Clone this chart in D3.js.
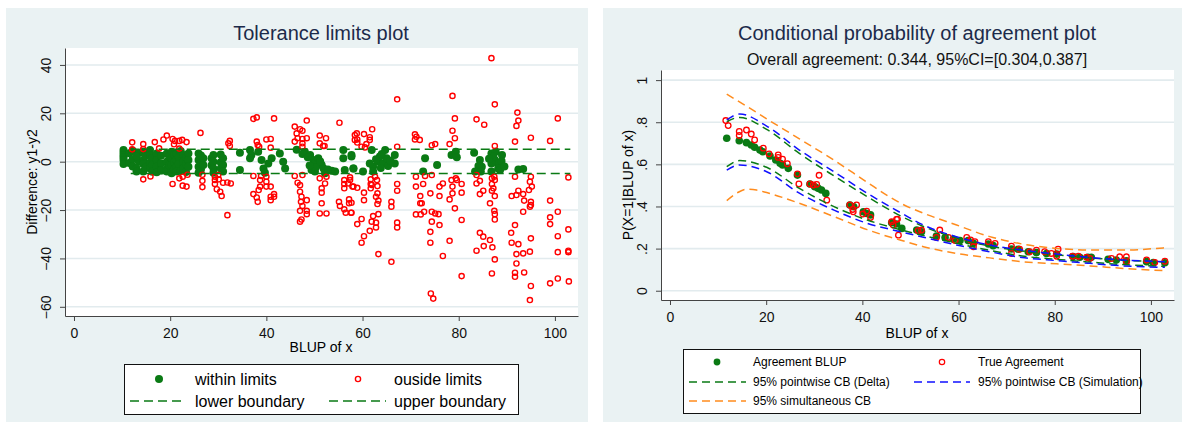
<!DOCTYPE html>
<html>
<head>
<meta charset="utf-8">
<script src="https://cdn.jsdelivr.net/npm/d3@7"></script>
<style>
  body { margin: 0; padding: 0; background: #fff; }
  text { font-family: "Liberation Sans", Arial, sans-serif; }
</style>
</head>
<body>
<script>
// ---- data ----
const xTicks = [0, 20, 40, 60, 80, 100];
const diffTicks = [-60, -40, -20, 0, 20, 40];
const probTicks = [0, 0.2, 0.4, 0.6, 0.8, 1];

// left panel: [BLUP of x, y1-y2]
const withinPts = [
  [10.3,4.8],[10.3,3.8],[10.3,2.8],[10.3,1.8],[10.3,0.7],[10.3,-1.0],
  [11.5,3.5],[11.5,-0.5],[12.2,4.5],[12.2,1.0],[12.2,-2.0],[13.5,3.6],[13.5,0.0],
  [13.0,2.1],[13.0,-2.8],[13.0,-4.1],
  [14.4,4.1],[14.4,0.7],[14.4,-1.0],[14.4,-4.1],[14.9,2.3],[14.9,-2.4],
  [15.8,4.8],[15.8,2.8],[15.8,-0.4],[15.8,-2.8],[16.3,1.5],[16.3,-1.3],[16.3,-4.2],
  [17.2,3.4],[17.2,0.7],[17.2,-2.1],[17.2,-4.4],[18.1,2.5],[18.1,-0.8],[18.1,-3.6],
  [19.3,3.4],[19.3,0],[19.3,-2.8],[19.3,-4.1],[19.8,2.2],[19.8,-1.5],
  [20.3,4.1],[20.3,1.4],[20.3,-1.4],[20.3,-4.8],[20.8,3.0],[20.8,-0.3],[20.8,-3.2],
  [21.3,3.4],[21.3,0.7],[21.3,-2.1],[21.3,-4.1],[21.8,1.8],[21.8,-1.0],[22.2,4.4],[22.2,-3.9],
  [22.7,2.8],[22.7,0],[22.7,-2.8],[23.3,1.6],[23.3,-1.0],[23.3,-4.3],
  [23.8,3.4],[23.8,0.7],[23.8,-2.1],
  [25.9,3.4],[25.9,0.7],[25.9,-2.1],[25.9,-4.6],[26.4,2.6],[26.4,-0.5],[26.4,-3.2],
  [26.9,1.4],[26.9,-1.4],[28.6,1.4],[28.6,-1.5],
  [29.0,2.8],[29.0,0],[29.0,-2.8],[29.0,-4.6],[30.5,3.0],[30.5,-0.2],[30.5,-2.8],
  [31.0,1.4],[31.0,-1.4],[31.0,-4.1],
  [34.5,3.7],[34.5,-3.4],[36.6,4.8],[36.9,2.8],[36.6,1.4],
  [38.3,4.1],[39.0,0.7],[39.4,-2.8],[39.7,-4.6],[41.1,1.4],[40.4,-0.7],
  [42.8,3.4],[43.5,0],[43.9,-2.8],
  [46.3,4.9],[48.0,4.1],[49.1,2.8],[49.8,0.7],[50.1,-0.7],[50.8,1.4],[51.5,-1.4],
  [51.9,-2.8],[49.4,-3.4],[50.1,-4.1],[52.2,-4.8],[53.6,-3.7],[54.3,-4.1],
  [47.5,3.2],[48.6,1.8],[50.3,-2.3],[51.2,0.1],[52.8,-3.2],[49.0,-1.6],
  [56.0,4.8],[56.0,1.4],[57.7,2.1],[56.3,-3.4],[58.1,-2.8],
  [57.7,2.8],[58.1,-2.8],[60.1,-4.1],[61.9,4.8],[62.2,-2.1],[62.2,-4.1],[63.3,0],
  [63.6,2.1],[64.3,-0.7],[64.7,4.8],[65.0,1.4],[65.3,-1.8],[66.7,2.8],[66.7,-0.7],
  [62.8,1.0],[63.8,-2.6],[64.0,3.2],[65.8,0.4],[61.5,-0.8],
  [73.0,1.4],[72.6,-4.1],[75.5,-1.4],[78.5,2.8],[79.4,4.1],[79.6,1.8],
  [83.2,3.7],[84.4,0.7],[84.8,-2.1],[84.1,-1.8],[83.4,-4.1],[84.6,-4.1],[86.8,3.4],
  [87.7,4.1],[89.0,2.8],[87.5,0.7],[88.2,-1.0],[86.8,-0.7],[88.2,-2.8],[86.8,-4.1],
  [88.6,-3.4],[92.4,-3.2],[93.4,-3.0],[87.2,2.0],[88.9,0.3],[86.3,1.2],[89.5,-2.0]
];

const outsidePts = [
  [12.1,8.0],[12.1,5.1],[14.4,7.3],[14.4,5.2],[16.8,8.1],[17.7,5.5],[18.6,9.2],[19.3,10.8],
  [20.5,9.4],[21.0,8.6],[20.8,7.2],[21.9,8.6],[22.5,9.0],[23.4,8.1],[21.9,5.4],[26.3,11.9],
  [14.4,-7.3],[15.9,-6.1],[20.5,-9.2],[21.9,-6.9],[22.6,-9.9],[23.4,-10.3],[22.6,-6.2],
  [23.6,-5.4],[26.7,-5.4],[26.7,-7.9],[26.7,-10.5],[29.3,-6.2],[29.3,-7.6],[29.3,-9.2],
  [30.0,-5.5],[30.1,-7.3],[29.7,-11.4],[30.4,-12.4],[30.7,-14.2],[31.0,-8.7],[31.9,-8.6],
  [31.9,-22.1],[32.1,7.6],
  [32.4,8.6],[32.4,6.5],[32.6,-9.0],[37.3,17.7],[38.0,18.3],[41.6,17.9],
  [38.0,8.3],[38.2,6.9],[38.5,6.2],[40.0,9.2],[40.9,9.4],[40.9,5.8],[37.3,-5.9],[38.9,-5.9],
  [38.7,-7.6],[38.7,-10.3],[38.4,-11.7],[37.3,-13.4],[38.0,-14.8],[38.2,-16.6],
  [40.0,-6.2],[40.0,-8.3],[40.0,-10.3],[40.9,-10.3],[41.6,-13.4],[40.9,-14.5],[40.9,-15.9],[41.6,-14.5],
  [45.9,14.5],[46.3,11.7],[47.0,13.4],[47.5,12.8],[48.4,17.0],
  [45.9,8.3],[46.5,9.7],[47.5,9.4],[48.4,9.7],[47.5,7.6],[47.5,6.2],
  [45.9,-5.9],[46.5,-8.7],[47.0,-9.7],[47.0,-12.4],[47.3,-14.5],[47.2,-16.6],[47.5,-18.3],
  [47.0,-20.3],[47.3,-23.9],[47.0,-24.8],[48.4,-15.9],[48.4,-20.3],[48.4,-21.7],[47.5,-5.5],
  [51.1,10.8],[52.4,9.7],[51.1,7.6],[51.8,6.5],[52.1,6.5],
  [51.1,-6.9],[51.5,-11.0],[51.5,-12.8],[52.2,-9.0],[52.5,-6.2],[51.5,-17.2],[51.1,-21.4],[52.5,-21.4],
  [55.2,16.1],
  [56.2,-7.6],[56.2,-9.2],[56.2,-11.0],[57.4,-7.6],[57.0,-9.0],[58.1,-10.3],[57.2,-15.6],[57.2,-17.2],
  [56.2,-19.7],[56.5,-21.1],[55.1,-16.6],[55.3,-18.3],[57.6,-21.1],[58.4,11.0],[58.4,9.0],
  [58.8,11.7],[58.9,9.2],[58.9,7.9],[59.8,6.2],[60.5,5.9],[60.3,11.4],[61.5,10.1],[61.5,9.0],
  [62.0,13.4],[60.8,7.3],[67.2,25.8],[67.2,6.2],
  [70.9,11.3],[71.2,10.3],[70.9,9.2],[71.9,9.0],[74.4,6.8],[75.1,7.3],
  [78.7,27.2],[79.2,17.9],[78.7,12.8],[79.2,9.7],[78.1,7.3],[79.6,-7.6],
  [57.4,-6.5],[57.9,-10.3],[58.9,-10.8],[60.3,-12.8],[60.3,-15.9],[57.7,-17.0],[57.7,-21.1],
  [58.9,-25.8],[59.8,-23.7],[60.3,-30.8],[59.8,-33.5],
  [61.7,-7.3],[61.7,-9.2],[61.7,-11.0],[63.0,-7.6],[63.1,-10.1],[63.1,-13.1],[62.8,-14.5],
  [63.3,-16.1],[63.1,-17.5],[62.2,-22.5],[61.9,-24.8],[62.8,-25.2],[63.3,-21.7],[62.8,-27.2],
  [61.5,-28.6],[63.3,-38.2],[61.9,-9.6],[62.6,-6.2],
  [66.0,-16.6],[66.0,-18.6],[67.2,-9.2],[67.2,-12.0],[67.2,-25.2],[67.2,-27.2],[66.0,-41.4],
  [71.1,-6.2],[71.1,-10.3],[72.0,-14.2],[72.0,-17.2],[72.6,-9.2],[72.3,-17.2],[72.8,-20.7],
  [71.1,-21.8],[72.1,-21.8],[74.1,-13.1],[74.4,-20.7],[74.4,-24.8],[75.1,-21.4],[75.8,-21.7],
  [74.1,-29.0],[74.1,-33.5],[76.0,-26.2],[74.2,-54.5],[74.7,-56.6],[73.0,-5.9],[74.4,-5.5],
  [76.0,-10.3],[76.7,-9.0],[76.0,-14.2],[76.7,-39.0],[78.1,-32.7],[78.1,-15.6],[78.7,-13.1],
  [78.7,-10.3],[80.6,-9.2],[80.6,-12.8],[79.2,-19.3],[80.6,-24.1],[80.6,-47.3],[79.4,-6.9],[78.5,-7.6],
  [86.8,42.8],[87.5,23.7],[83.7,17.5],[85.3,15.3],[92.2,20.3],[92.4,17.0],[92.0,14.8],[100.6,17.9],
  [91.7,8.3],[95.0,9.9],[99.0,8.6],[87.5,6.5],
  [83.7,-5.5],[84.4,-7.9],[83.7,-9.0],[84.4,-13.4],[85.1,-12.0],[86.5,-17.2],[86.9,-12.0],[86.9,-9.2],
  [87.4,-6.2],[87.5,-7.6],[87.2,-11.0],[87.5,-14.2],[87.4,-20.3],[87.5,-21.7],[87.5,-23.9],[86.9,-6.9],
  [84.4,-29.4],[85.1,-31.0],[86.5,-32.4],[85.2,-34.9],[87.0,-35.4],[83.7,-36.8],[87.5,-40.4],[86.9,-46.2],
  [91.7,-6.2],[92.4,-12.0],[92.0,-13.8],[91.0,-14.2],[93.4,-13.4],[93.6,-16.1],[95.0,-6.2],[94.8,-8.3],
  [95.2,-10.3],[94.6,-11.7],[95.0,-16.6],[95.0,-17.9],[94.8,-18.6],[93.4,-20.7],
  [91.7,-26.2],[90.9,-29.4],[91.0,-33.5],[92.4,-34.1],[92.0,-38.2],[93.4,-37.9],[94.8,-37.2],[95.0,-31.7],
  [92.0,-42.1],[91.7,-45.9],[91.7,-47.6],[93.6,-45.8],[95.0,-51.4],[94.8,-57.2],
  [99.0,-16.1],[99.0,-23.0],[99.0,-25.8],[100.6,-20.7],[100.6,-30.8],[100.6,-37.4],[99.0,-50.3],
  [100.6,-48.3],[102.8,-6.5],[102.8,-28.0],[102.8,-36.8],[102.9,-49.5],[102.8,-37.4]
];

const lowerBound = [[11.8,-4.9],[103.2,-4.9]];
const upperBound = [[11.8,5.1],[103.2,5.1]];

// right panel: [BLUP of x, P(X=1|BLUP of x)]
const agreeBlup = [
  [11.8,.724],[14.4,.712],[15.9,.703],[16.9,.692],[17.6,.681],[18.7,.668],[19.3,.660],[20.8,.640],
  [22.0,.621],[22.9,.605],[23.4,.597],[24.6,.581],[26.5,.549],[29.1,.507],[30.1,.494],[30.8,.486],
  [31.5,.478],[32.4,.462],[37.4,.407],[38.2,.399],[40.2,.375],[40.9,.367],[41.7,.360],[46.1,.323],
  [47.1,.317],[48.2,.296],[51.3,.288],[52.3,.280],[55.4,.260],[57.2,.253],[58.9,.244],[60.3,.238],
  [62.0,.238],[63.1,.225],[66.2,.222],[67.2,.214],[71.0,.198],[72.4,.197],[74.5,.185],[76.2,.181],
  [78.3,.177],[80.4,.174],[83.8,.162],[85.2,.159],[86.9,.159],[87.6,.159],[91.1,.149],[92.8,.146],
  [94.9,.142],[99.1,.138],[100.5,.134],[102.9,.133]
];
const trueAgree = [
  [11.6,.808],[12.1,.784],[14.4,.756],[14.4,.737],[15.9,.763],[16.9,.744],[17.6,.716],[19.4,.677],
  [20.6,.650],[22.5,.645],[22.5,.633],[23.4,.625],[24.4,.603],[26.5,.555],[26.8,.507],[29.1,.507],
  [29.8,.502],[30.5,.505],[31.0,.548],[32.6,.430],[37.4,.407],[38.1,.375],[38.0,.386],[38.8,.407],
  [40.1,.364],[40.9,.378],[41.7,.348],[46.4,.312],[47.3,.340],[47.5,.264],
  [46.1,.328],[47.1,.339],[51.6,.285],[52.3,.288],[56.1,.288],[55.4,.253],[57.9,.253],[59.3,.238],
  [61.7,.253],[62.5,.241],[63.4,.233],[63.1,.209],[66.2,.233],[67.6,.225],[71.0,.212],[71.0,.177],
  [72.7,.197],[74.8,.185],[76.2,.193],[77.9,.185],[79.3,.177],[80.7,.197],[80.4,.164],[83.7,.164],
  [84.9,.164],[86.6,.159],[87.3,.153],[91.8,.153],[93.5,.161],[94.9,.161],[94.9,.137],[99.1,.146],
  [100.8,.134],[102.9,.140]
];
const deltaUp = [[11.8,.803],[14.5,.823],[20.1,.766],[26.9,.652],[34.1,.545],[41,.447],[48,.355],
  [52.7,.305],[59.6,.25],[66.5,.212],[73.2,.189],[80.4,.171],[87.3,.156],[94.2,.145],[102.9,.137]];
const deltaLo = [[11.8,.589],[14.5,.618],[20.1,.586],[26.9,.486],[34.1,.399],[41,.336],[48,.289],
  [52.7,.262],[59.6,.225],[66.5,.192],[73.2,.165],[80.4,.149],[87.3,.136],[94.2,.124],[102.9,.116]];
const simUp = [[11.8,.811],[14.5,.839],[20.1,.782],[26.9,.668],[34.1,.565],[41,.463],[48,.37],
  [52.7,.312],[59.6,.256],[66.5,.217],[73.2,.193],[80.4,.174],[87.3,.158],[94.2,.146],[102.9,.138]];
const simLo = [[11.8,.573],[14.5,.597],[20.1,.565],[26.9,.463],[34.1,.383],[41,.32],[48,.28],
  [52.7,.254],[59.6,.217],[66.5,.185],[73.2,.158],[80.4,.143],[87.3,.13],[94.2,.118],[102.9,.111]];
const bandUp = [[11.8,.933],[16,.875],[20.1,.816],[27,.72],[34.1,.62],[41,.515],[45.7,.445],[48,.415],
  [52.7,.368],[59.6,.312],[66.5,.257],[73.2,.222],[80.4,.201],[87.3,.193],[94.2,.193],[102.9,.204]];
const bandLo = [[11.8,.428],[14,.465],[15.9,.482],[18,.478],[20.1,.466],[26.9,.415],[34.1,.352],[41,.29],
  [45.7,.255],[48,.24],[52.7,.209],[59.6,.177],[66.5,.156],[73.2,.138],[80.4,.128],[87.3,.118],
  [94.2,.106],[102.9,.095]];

// ---- colours ----
const bg = "#eaf2f3";
const grid = "#e2ebee";
const dkgreen = "#0a7a14";
const red = "#ff0000";
const blue = "#1010ff";
const orange = "#ff8c1e";
const navy = "#1c2a4a";

const svg = d3.select("body").append("svg")
  .attr("width", 1186)
  .attr("height", 430);

svg.append("rect").attr("x",6).attr("y",8).attr("width",582).attr("height",414).attr("fill",bg);
svg.append("rect").attr("x",603).attr("y",8).attr("width",579).attr("height",414).attr("fill",bg);

// ================= left panel =================
const xL = d3.scaleLinear().domain([-1.87, 104.8]).range([65, 578]);
const yL = d3.scaleLinear().domain([-63.8, 47.0]).range([316, 48]);

svg.append("rect").attr("x",65).attr("y",48).attr("width",513).attr("height",268).attr("fill","#fff");

svg.append("g").selectAll("line").data(diffTicks).join("line")
  .attr("x1",65).attr("x2",578)
  .attr("y1",d=>yL(d)).attr("y2",d=>yL(d))
  .attr("stroke",grid).attr("stroke-width",1.6);

svg.append("text").attr("x",321).attr("y",40).attr("text-anchor","middle")
  .attr("font-size",20).attr("fill",navy).text("Tolerance limits plot");

const styleAxis = g => {
  g.select(".domain").attr("stroke","#444");
  g.selectAll(".tick line").attr("stroke","#444");
  g.selectAll("text").attr("font-size",14).attr("fill","#111");
};

svg.append("g").attr("transform","translate(0,316)")
  .call(d3.axisBottom(xL).tickValues(xTicks).tickSize(5).tickSizeOuter(0))
  .call(styleAxis)
  .call(g=>g.selectAll("text").attr("y",12));

svg.append("g").attr("transform","translate(65,0)")
  .call(d3.axisLeft(yL).tickValues(diffTicks).tickSize(5).tickSizeOuter(0))
  .call(styleAxis)
  .call(g=>g.selectAll("text").attr("x",0).attr("dy",0).attr("text-anchor","middle")
    .attr("transform","translate(-14,0) rotate(-90)"));

svg.append("text").attr("x",321).attr("y",352).attr("text-anchor","middle")
  .attr("font-size",14).text("BLUP of x");
svg.append("text").attr("transform","translate(37,182) rotate(-90)").attr("text-anchor","middle")
  .attr("font-size",14).text("Difference: y1-y2");

svg.append("g").selectAll("circle").data(withinPts).join("circle")
  .attr("cx",d=>xL(d[0])).attr("cy",d=>yL(d[1])).attr("r",4).attr("fill",dkgreen);

svg.append("g").selectAll("circle").data(outsidePts).join("circle")
  .attr("cx",d=>xL(d[0])).attr("cy",d=>yL(d[1])).attr("r",2.6)
  .attr("fill","none").attr("stroke",red).attr("stroke-width",1.4);

const lineL = d3.line().x(d=>xL(d[0])).y(d=>yL(d[1]));
[lowerBound, upperBound].forEach(b=>{
  svg.append("path").attr("d",lineL(b)).attr("fill","none")
    .attr("stroke",dkgreen).attr("stroke-width",1.5).attr("stroke-dasharray","9,5");
});

// legend left
const legL = svg.append("g");
legL.append("rect").attr("x",124.5).attr("y",364.5).attr("width",394).attr("height",50)
  .attr("fill","#fff").attr("stroke","#111").attr("stroke-width",1);
legL.append("circle").attr("cx",159).attr("cy",379).attr("r",4).attr("fill",dkgreen);
legL.append("circle").attr("cx",358).attr("cy",379).attr("r",2.6).attr("fill","none")
  .attr("stroke",red).attr("stroke-width",1.4);
[[130,186],[329,386]].forEach(s=>{
  legL.append("line").attr("x1",s[0]).attr("x2",s[1]).attr("y1",401).attr("y2",401)
    .attr("stroke",dkgreen).attr("stroke-width",1.5).attr("stroke-dasharray","9,5");
});
[["within limits",195,385],["ouside limits",394,385],["lower boundary",195,407],["upper boundary",394,407]]
  .forEach(t=>legL.append("text").attr("x",t[1]).attr("y",t[2]).attr("font-size",16).text(t[0]));

// ================= right panel =================
const xR = d3.scaleLinear().domain([-1.87, 104.8]).range([661, 1174]);
const yR = d3.scaleLinear().domain([-0.044, 1.048]).range([300, 70]);

svg.append("rect").attr("x",661).attr("y",70).attr("width",513).attr("height",230).attr("fill","#fff");

svg.append("g").selectAll("line").data(probTicks).join("line")
  .attr("x1",661).attr("x2",1174)
  .attr("y1",d=>yR(d)).attr("y2",d=>yR(d))
  .attr("stroke",grid).attr("stroke-width",1.6);

svg.append("text").attr("x",917).attr("y",40).attr("text-anchor","middle")
  .attr("font-size",20).attr("fill",navy).text("Conditional probability of agreement plot");
svg.append("text").attr("x",917).attr("y",65).attr("text-anchor","middle")
  .attr("font-size",16).attr("fill","#111").text("Overall agreement: 0.344, 95%CI=[0.304,0.387]");

svg.append("g").attr("transform","translate(0,300)")
  .call(d3.axisBottom(xR).tickValues(xTicks).tickSize(5).tickSizeOuter(0))
  .call(styleAxis)
  .call(g=>g.selectAll("text").attr("y",12));

const probFmt = d => d === 0 ? "0" : d === 1 ? "1" : String(d).replace("0.", ".");
svg.append("g").attr("transform","translate(661,0)")
  .call(d3.axisLeft(yR).tickValues(probTicks).tickFormat(probFmt).tickSize(5).tickSizeOuter(0))
  .call(styleAxis)
  .call(g=>g.selectAll("text").attr("x",0).attr("dy",0).attr("text-anchor","middle")
    .attr("transform","translate(-14,0) rotate(-90)"));

svg.append("text").attr("x",917).attr("y",338).attr("text-anchor","middle")
  .attr("font-size",14).text("BLUP of x");
svg.append("text").attr("transform","translate(633,185) rotate(-90)").attr("text-anchor","middle")
  .attr("font-size",14).text("P(X=1|BLUP of x)");

svg.append("g").selectAll("circle").data(agreeBlup).join("circle")
  .attr("cx",d=>xR(d[0])).attr("cy",d=>yR(d[1])).attr("r",3.8).attr("fill",dkgreen);
svg.append("g").selectAll("circle").data(trueAgree).join("circle")
  .attr("cx",d=>xR(d[0])).attr("cy",d=>yR(d[1])).attr("r",2.8)
  .attr("fill","none").attr("stroke",red).attr("stroke-width",1.3);

const lineR = d3.line().x(d=>xR(d[0])).y(d=>yR(d[1])).curve(d3.curveMonotoneX);
[[deltaUp,dkgreen],[deltaLo,dkgreen],[simUp,blue],[simLo,blue],[bandUp,orange],[bandLo,orange]]
  .forEach(c=>{
    svg.append("path").attr("d",lineR(c[0])).attr("fill","none")
      .attr("stroke",c[1]).attr("stroke-width",1.5).attr("stroke-dasharray","8,5");
  });

// legend right
const legR = svg.append("g");
legR.append("rect").attr("x",683.5).attr("y",349.5).attr("width",457).attr("height",64)
  .attr("fill","#fff").attr("stroke","#111").attr("stroke-width",1);
legR.append("circle").attr("cx",717).attr("cy",362).attr("r",3.4).attr("fill",dkgreen);
legR.append("circle").attr("cx",942).attr("cy",362).attr("r",2.7).attr("fill","none")
  .attr("stroke",red).attr("stroke-width",1.2);
[[689,746,382,dkgreen],[914,970,382,blue],[689,746,401,orange]].forEach(s=>{
  legR.append("line").attr("x1",s[0]).attr("x2",s[1]).attr("y1",s[2]).attr("y2",s[2])
    .attr("stroke",s[3]).attr("stroke-width",1.5).attr("stroke-dasharray","8,5");
});
[["Agreement BLUP",753,366],["True Agreement",978,366],["95% pointwise CB (Delta)",753,386],
 ["95% pointwise CB (Simulation)",978,386],["95% simultaneous CB",753,405]]
  .forEach(t=>legR.append("text").attr("x",t[1]).attr("y",t[2]).attr("font-size",12).text(t[0]));
</script>
</body>
</html>
